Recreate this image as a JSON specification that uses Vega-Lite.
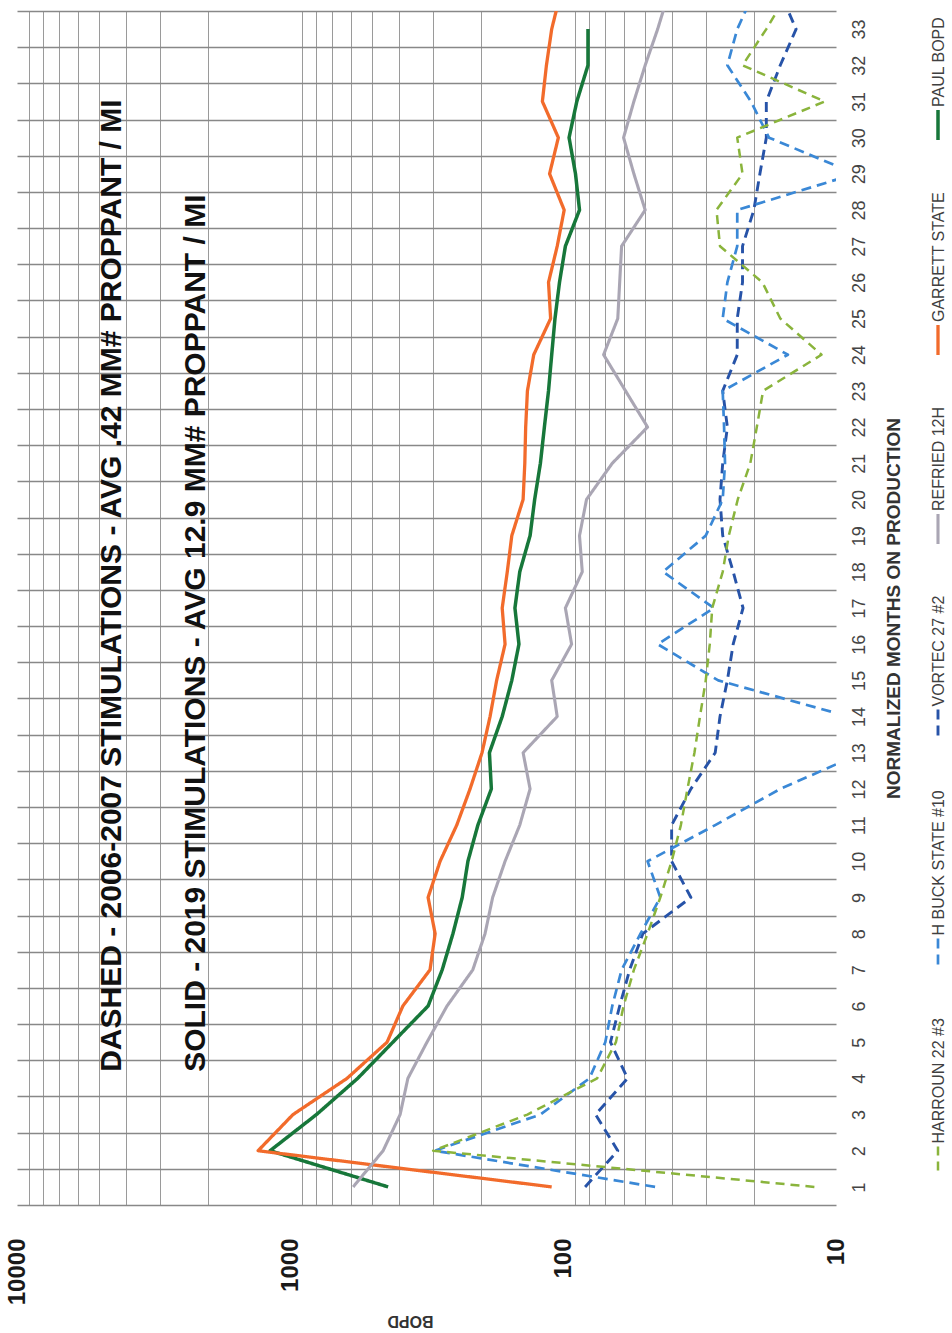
{
  "$schema": "https://vega.github.io/schema/vega-lite/v6.json",
  "width": 819,
  "height": 1194,
  "autosize": {"type": "none"},
  "padding": {"left": 17, "top": 11, "right": 116, "bottom": 128},
  "background": "white",
  "config": {"view": {"stroke": null}, "font": "Liberation Sans"},
  "datasets": {
    "prod": [
      {"series": "PAUL BOPD", "month": 1, "bopd": 437}, {"series": "PAUL BOPD", "month": 2, "bopd": 1183}, {"series": "PAUL BOPD", "month": 3, "bopd": 800}, {"series": "PAUL BOPD", "month": 4, "bopd": 565}, {"series": "PAUL BOPD", "month": 5, "bopd": 420}, {"series": "PAUL BOPD", "month": 6, "bopd": 312}, {"series": "PAUL BOPD", "month": 7, "bopd": 277}, {"series": "PAUL BOPD", "month": 8, "bopd": 253}, {"series": "PAUL BOPD", "month": 9, "bopd": 234}, {"series": "PAUL BOPD", "month": 10, "bopd": 223}, {"series": "PAUL BOPD", "month": 11, "bopd": 205}, {"series": "PAUL BOPD", "month": 12, "bopd": 183}, {"series": "PAUL BOPD", "month": 13, "bopd": 186}, {"series": "PAUL BOPD", "month": 14, "bopd": 167}, {"series": "PAUL BOPD", "month": 15, "bopd": 154}, {"series": "PAUL BOPD", "month": 16, "bopd": 145}, {"series": "PAUL BOPD", "month": 17, "bopd": 150}, {"series": "PAUL BOPD", "month": 18, "bopd": 144}, {"series": "PAUL BOPD", "month": 19, "bopd": 132}, {"series": "PAUL BOPD", "month": 20, "bopd": 127}, {"series": "PAUL BOPD", "month": 21, "bopd": 121}, {"series": "PAUL BOPD", "month": 22, "bopd": 117}, {"series": "PAUL BOPD", "month": 23, "bopd": 113}, {"series": "PAUL BOPD", "month": 24, "bopd": 110}, {"series": "PAUL BOPD", "month": 25, "bopd": 107}, {"series": "PAUL BOPD", "month": 26, "bopd": 103}, {"series": "PAUL BOPD", "month": 27, "bopd": 98}, {"series": "PAUL BOPD", "month": 28, "bopd": 87}, {"series": "PAUL BOPD", "month": 29, "bopd": 90}, {"series": "PAUL BOPD", "month": 30, "bopd": 95}, {"series": "PAUL BOPD", "month": 31, "bopd": 89}, {"series": "PAUL BOPD", "month": 32, "bopd": 81}, {"series": "PAUL BOPD", "month": 33, "bopd": 81},
      {"series": "GARRETT STATE", "month": 1, "bopd": 110}, {"series": "GARRETT STATE", "month": 2, "bopd": 1309}, {"series": "GARRETT STATE", "month": 3, "bopd": 975}, {"series": "GARRETT STATE", "month": 4, "bopd": 618}, {"series": "GARRETT STATE", "month": 5, "bopd": 441}, {"series": "GARRETT STATE", "month": 6, "bopd": 386}, {"series": "GARRETT STATE", "month": 7, "bopd": 307}, {"series": "GARRETT STATE", "month": 8, "bopd": 294}, {"series": "GARRETT STATE", "month": 9, "bopd": 312}, {"series": "GARRETT STATE", "month": 10, "bopd": 282}, {"series": "GARRETT STATE", "month": 11, "bopd": 245}, {"series": "GARRETT STATE", "month": 12, "bopd": 219}, {"series": "GARRETT STATE", "month": 13, "bopd": 198}, {"series": "GARRETT STATE", "month": 14, "bopd": 185}, {"series": "GARRETT STATE", "month": 15, "bopd": 175}, {"series": "GARRETT STATE", "month": 16, "bopd": 163}, {"series": "GARRETT STATE", "month": 17, "bopd": 167}, {"series": "GARRETT STATE", "month": 18, "bopd": 160}, {"series": "GARRETT STATE", "month": 19, "bopd": 154}, {"series": "GARRETT STATE", "month": 20, "bopd": 140}, {"series": "GARRETT STATE", "month": 21, "bopd": 138}, {"series": "GARRETT STATE", "month": 22, "bopd": 137}, {"series": "GARRETT STATE", "month": 23, "bopd": 135}, {"series": "GARRETT STATE", "month": 24, "bopd": 128}, {"series": "GARRETT STATE", "month": 25, "bopd": 111}, {"series": "GARRETT STATE", "month": 26, "bopd": 113}, {"series": "GARRETT STATE", "month": 27, "bopd": 105}, {"series": "GARRETT STATE", "month": 28, "bopd": 99}, {"series": "GARRETT STATE", "month": 29, "bopd": 112}, {"series": "GARRETT STATE", "month": 30, "bopd": 104}, {"series": "GARRETT STATE", "month": 31, "bopd": 119}, {"series": "GARRETT STATE", "month": 32, "bopd": 115}, {"series": "GARRETT STATE", "month": 33, "bopd": 110}, {"series": "GARRETT STATE", "month": 34, "bopd": 102},
      {"series": "REFRIED 12H", "month": 1, "bopd": 587}, {"series": "REFRIED 12H", "month": 2, "bopd": 456}, {"series": "REFRIED 12H", "month": 3, "bopd": 395}, {"series": "REFRIED 12H", "month": 4, "bopd": 370}, {"series": "REFRIED 12H", "month": 5, "bopd": 315}, {"series": "REFRIED 12H", "month": 6, "bopd": 266}, {"series": "REFRIED 12H", "month": 7, "bopd": 214}, {"series": "REFRIED 12H", "month": 8, "bopd": 193}, {"series": "REFRIED 12H", "month": 9, "bopd": 181}, {"series": "REFRIED 12H", "month": 10, "bopd": 163}, {"series": "REFRIED 12H", "month": 11, "bopd": 144}, {"series": "REFRIED 12H", "month": 12, "bopd": 132}, {"series": "REFRIED 12H", "month": 13, "bopd": 140}, {"series": "REFRIED 12H", "month": 14, "bopd": 105}, {"series": "REFRIED 12H", "month": 15, "bopd": 110}, {"series": "REFRIED 12H", "month": 16, "bopd": 93}, {"series": "REFRIED 12H", "month": 17, "bopd": 98}, {"series": "REFRIED 12H", "month": 18, "bopd": 85}, {"series": "REFRIED 12H", "month": 19, "bopd": 87}, {"series": "REFRIED 12H", "month": 20, "bopd": 82}, {"series": "REFRIED 12H", "month": 21, "bopd": 66}, {"series": "REFRIED 12H", "month": 22, "bopd": 49}, {"series": "REFRIED 12H", "month": 23, "bopd": 59}, {"series": "REFRIED 12H", "month": 24, "bopd": 71}, {"series": "REFRIED 12H", "month": 25, "bopd": 63}, {"series": "REFRIED 12H", "month": 26, "bopd": 62}, {"series": "REFRIED 12H", "month": 27, "bopd": 61}, {"series": "REFRIED 12H", "month": 28, "bopd": 50}, {"series": "REFRIED 12H", "month": 29, "bopd": 55}, {"series": "REFRIED 12H", "month": 30, "bopd": 60}, {"series": "REFRIED 12H", "month": 31, "bopd": 55}, {"series": "REFRIED 12H", "month": 32, "bopd": 50}, {"series": "REFRIED 12H", "month": 33, "bopd": 45}, {"series": "REFRIED 12H", "month": 34, "bopd": 41},
      {"series": "VORTEC 27 #2", "month": 1, "bopd": 83}, {"series": "VORTEC 27 #2", "month": 2, "bopd": 63}, {"series": "VORTEC 27 #2", "month": 3, "bopd": 76}, {"series": "VORTEC 27 #2", "month": 4, "bopd": 58}, {"series": "VORTEC 27 #2", "month": 5, "bopd": 67}, {"series": "VORTEC 27 #2", "month": 6, "bopd": 62}, {"series": "VORTEC 27 #2", "month": 7, "bopd": 57}, {"series": "VORTEC 27 #2", "month": 8, "bopd": 51}, {"series": "VORTEC 27 #2", "month": 9, "bopd": 34}, {"series": "VORTEC 27 #2", "month": 10, "bopd": 40}, {"series": "VORTEC 27 #2", "month": 11, "bopd": 40}, {"series": "VORTEC 27 #2", "month": 12, "bopd": 34}, {"series": "VORTEC 27 #2", "month": 13, "bopd": 27.7}, {"series": "VORTEC 27 #2", "month": 14, "bopd": 26.6}, {"series": "VORTEC 27 #2", "month": 15, "bopd": 25}, {"series": "VORTEC 27 #2", "month": 16, "bopd": 23.8}, {"series": "VORTEC 27 #2", "month": 17, "bopd": 21.9}, {"series": "VORTEC 27 #2", "month": 18, "bopd": 23.8}, {"series": "VORTEC 27 #2", "month": 19, "bopd": 26}, {"series": "VORTEC 27 #2", "month": 20, "bopd": 26.6}, {"series": "VORTEC 27 #2", "month": 21, "bopd": 26}, {"series": "VORTEC 27 #2", "month": 22, "bopd": 25}, {"series": "VORTEC 27 #2", "month": 23, "bopd": 26}, {"series": "VORTEC 27 #2", "month": 24, "bopd": 23}, {"series": "VORTEC 27 #2", "month": 25, "bopd": 23}, {"series": "VORTEC 27 #2", "month": 26, "bopd": 22}, {"series": "VORTEC 27 #2", "month": 27, "bopd": 22}, {"series": "VORTEC 27 #2", "month": 28, "bopd": 20}, {"series": "VORTEC 27 #2", "month": 29, "bopd": 19}, {"series": "VORTEC 27 #2", "month": 30, "bopd": 18}, {"series": "VORTEC 27 #2", "month": 31, "bopd": 18}, {"series": "VORTEC 27 #2", "month": 32, "bopd": 16}, {"series": "VORTEC 27 #2", "month": 33, "bopd": 14}, {"series": "VORTEC 27 #2", "month": 34, "bopd": 16},
      {"series": "H BUCK STATE #10", "month": 1, "bopd": 46}, {"series": "H BUCK STATE #10", "month": 2, "bopd": 295}, {"series": "H BUCK STATE #10", "month": 3, "bopd": 121}, {"series": "H BUCK STATE #10", "month": 4, "bopd": 80}, {"series": "H BUCK STATE #10", "month": 5, "bopd": 70}, {"series": "H BUCK STATE #10", "month": 6, "bopd": 66}, {"series": "H BUCK STATE #10", "month": 7, "bopd": 61}, {"series": "H BUCK STATE #10", "month": 8, "bopd": 52}, {"series": "H BUCK STATE #10", "month": 9, "bopd": 44}, {"series": "H BUCK STATE #10", "month": 10, "bopd": 49}, {"series": "H BUCK STATE #10", "month": 11, "bopd": 27.7}, {"series": "H BUCK STATE #10", "month": 12, "bopd": 16}, {"series": "H BUCK STATE #10", "month": 13, "bopd": 8}, {"series": "H BUCK STATE #10", "month": 14, "bopd": 9}, {"series": "H BUCK STATE #10", "month": 15, "bopd": 27}, {"series": "H BUCK STATE #10", "month": 16, "bopd": 45}, {"series": "H BUCK STATE #10", "month": 17, "bopd": 28}, {"series": "H BUCK STATE #10", "month": 18, "bopd": 43}, {"series": "H BUCK STATE #10", "month": 19, "bopd": 30}, {"series": "H BUCK STATE #10", "month": 20, "bopd": 26}, {"series": "H BUCK STATE #10", "month": 21, "bopd": 25.5}, {"series": "H BUCK STATE #10", "month": 22, "bopd": 25.7}, {"series": "H BUCK STATE #10", "month": 23, "bopd": 26}, {"series": "H BUCK STATE #10", "month": 24, "bopd": 15}, {"series": "H BUCK STATE #10", "month": 25, "bopd": 26}, {"series": "H BUCK STATE #10", "month": 26, "bopd": 25}, {"series": "H BUCK STATE #10", "month": 27, "bopd": 23}, {"series": "H BUCK STATE #10", "month": 28, "bopd": 23}, {"series": "H BUCK STATE #10", "month": 29, "bopd": 8.5}, {"series": "H BUCK STATE #10", "month": 30, "bopd": 17.6}, {"series": "H BUCK STATE #10", "month": 31, "bopd": 20.5}, {"series": "H BUCK STATE #10", "month": 32, "bopd": 25}, {"series": "H BUCK STATE #10", "month": 33, "bopd": 23}, {"series": "H BUCK STATE #10", "month": 34, "bopd": 20},
      {"series": "HARROUN 22 #3", "month": 1, "bopd": 12}, {"series": "HARROUN 22 #3", "month": 2, "bopd": 299}, {"series": "HARROUN 22 #3", "month": 3, "bopd": 135}, {"series": "HARROUN 22 #3", "month": 4, "bopd": 75}, {"series": "HARROUN 22 #3", "month": 5, "bopd": 64}, {"series": "HARROUN 22 #3", "month": 6, "bopd": 60}, {"series": "HARROUN 22 #3", "month": 7, "bopd": 55}, {"series": "HARROUN 22 #3", "month": 8, "bopd": 49}, {"series": "HARROUN 22 #3", "month": 9, "bopd": 44}, {"series": "HARROUN 22 #3", "month": 10, "bopd": 40}, {"series": "HARROUN 22 #3", "month": 11, "bopd": 37}, {"series": "HARROUN 22 #3", "month": 12, "bopd": 35}, {"series": "HARROUN 22 #3", "month": 13, "bopd": 33}, {"series": "HARROUN 22 #3", "month": 14, "bopd": 31.5}, {"series": "HARROUN 22 #3", "month": 15, "bopd": 30}, {"series": "HARROUN 22 #3", "month": 16, "bopd": 29}, {"series": "HARROUN 22 #3", "month": 17, "bopd": 28.4}, {"series": "HARROUN 22 #3", "month": 18, "bopd": 26}, {"series": "HARROUN 22 #3", "month": 19, "bopd": 24.7}, {"series": "HARROUN 22 #3", "month": 20, "bopd": 22.9}, {"series": "HARROUN 22 #3", "month": 21, "bopd": 20.6}, {"series": "HARROUN 22 #3", "month": 22, "bopd": 19.5}, {"series": "HARROUN 22 #3", "month": 23, "bopd": 18.5}, {"series": "HARROUN 22 #3", "month": 24, "bopd": 11.3}, {"series": "HARROUN 22 #3", "month": 25, "bopd": 16}, {"series": "HARROUN 22 #3", "month": 26, "bopd": 18.6}, {"series": "HARROUN 22 #3", "month": 27, "bopd": 26.6}, {"series": "HARROUN 22 #3", "month": 28, "bopd": 27.4}, {"series": "HARROUN 22 #3", "month": 29, "bopd": 22}, {"series": "HARROUN 22 #3", "month": 30, "bopd": 23}, {"series": "HARROUN 22 #3", "month": 31, "bopd": 11}, {"series": "HARROUN 22 #3", "month": 32, "bopd": 22}, {"series": "HARROUN 22 #3", "month": 33, "bopd": 18}, {"series": "HARROUN 22 #3", "month": 34, "bopd": 15}
    ],
    "notes": [{"note": "annotation"}]
  },
  "layer": [
    {
      "data": {"name": "prod"},
      "mark": {"type": "line", "clip": true, "strokeCap": "butt", "strokeJoin": "round"},
      "encoding": {
        "x": {
          "field": "bopd", "type": "quantitative",
          "scale": {"type": "log", "domain": [10, 10000], "reverse": true},
          "axis": {
            "orient": "bottom", "tickCount": 200,
            "values": [10, 20, 30, 40, 50, 60, 70, 80, 90, 100, 200, 300, 400, 500, 600, 700, 800, 900, 1000, 2000, 3000, 4000, 5000, 6000, 7000, 8000, 9000, 10000],
            "grid": true, "gridColor": "#9a9a9a", "gridWidth": 1,
            "gridOpacity": {"condition": {"test": "datum.value == 10 || datum.value == 100 || datum.value == 1000 || datum.value == 10000", "value": 0}, "value": 1},
            "ticks": false, "domain": false,
            "labelExpr": "datum.value == 10 || datum.value == 100 || datum.value == 1000 || datum.value == 10000 ? format(datum.value, 'd') : ''",
            "labelAngle": 270, "labelAlign": "right", "labelBaseline": "middle",
            "labelFontSize": 24, "labelFontWeight": "bold", "labelColor": "#1a1a1a",
            "labelPadding": 33, "labelOverlap": false, "labelFlush": false, "labelBound": false,
            "title": "BOPD", "titleAngle": 180, "titleFontSize": 16, "titleFontWeight": "bold", "titleColor": "#333333",
            "titleX": 393, "titleY": 115, "titleAlign": "center", "titleBaseline": "middle"
          }
        },
        "y": {
          "field": "month", "type": "quantitative",
          "scale": {"domain": [0.5, 33.5], "nice": false, "zero": false},
          "axis": {
            "orient": "right", "tickCount": 200,
            "values": [0.5, 1, 1.5, 2, 2.5, 3, 3.5, 4, 4.5, 5, 5.5, 6, 6.5, 7, 7.5, 8, 8.5, 9, 9.5, 10, 10.5, 11, 11.5, 12, 12.5, 13, 13.5, 14, 14.5, 15, 15.5, 16, 16.5, 17, 17.5, 18, 18.5, 19, 19.5, 20, 20.5, 21, 21.5, 22, 22.5, 23, 23.5, 24, 24.5, 25, 25.5, 26, 26.5, 27, 27.5, 28, 28.5, 29, 29.5, 30, 30.5, 31, 31.5, 32, 32.5, 33, 33.5],
            "grid": true, "gridColor": "#888888", "gridWidth": 1.5,
            "gridOpacity": {"condition": {"test": "datum.value % 1 == 0", "value": 0}, "value": 1},
            "ticks": false, "domain": false,
            "labelExpr": "datum.value % 1 == 0 ? format(datum.value, 'd') : ''",
            "labelAngle": 270, "labelAlign": "center", "labelBaseline": "top",
            "labelFontSize": 18, "labelColor": "#444444", "labelPadding": 14,
            "labelOverlap": false, "labelFlush": false, "labelBound": false,
            "title": "NORMALIZED MONTHS ON PRODUCTION", "titleAngle": 270, "titleFontSize": 19, "titleFontWeight": "bold", "titleColor": "#333333",
            "titleX": 57, "titleY": 597, "titleAlign": "center", "titleBaseline": "middle"
          }
        },
        "order": {"field": "month", "type": "quantitative"},
        "color": {
          "field": "series", "type": "nominal",
          "scale": {"domain": ["PAUL BOPD", "GARRETT STATE", "REFRIED 12H", "VORTEC 27 #2", "H BUCK STATE #10", "HARROUN 22 #3"], "range": ["#17773a", "#f26b2b", "#aaa6b4", "#2753a8", "#3a88d6", "#8ab43c"]},
          "legend": {
            "title": null, "orient": "none", "legendX": 904, "legendY": 97, "direction": "vertical",
            "symbolType": "M0,-1L0,1", "symbolSize": 900, "labelFontSize": 16, "labelColor": "#404040",
            "labelOffset": -16, "labelAlign": "left", "labelBaseline": "middle", "rowPadding": 44, "labelLimit": 400, "padding": 0,
            "encode": {"labels": {"update": {"angle": {"value": 270}, "dx": {"value": 18}}}}
          }
        },
        "strokeDash": {
          "field": "series", "type": "nominal",
          "scale": {"domain": ["PAUL BOPD", "GARRETT STATE", "REFRIED 12H", "VORTEC 27 #2", "H BUCK STATE #10", "HARROUN 22 #3"], "range": [[1, 0], [1, 0], [1, 0], [10, 6], [10, 6], [9, 6]]},
          "legend": {
            "title": null, "orient": "none", "legendX": 904, "legendY": 97, "direction": "vertical",
            "symbolType": "M0,-1L0,1", "symbolSize": 900, "labelFontSize": 16, "labelColor": "#404040",
            "labelOffset": -16, "labelAlign": "left", "labelBaseline": "middle", "rowPadding": 44, "labelLimit": 400, "padding": 0,
            "encode": {"labels": {"update": {"angle": {"value": 270}, "dx": {"value": 18}}}}
          }
        },
        "strokeWidth": {
          "field": "series", "type": "nominal",
          "scale": {"domain": ["PAUL BOPD", "GARRETT STATE", "REFRIED 12H", "VORTEC 27 #2", "H BUCK STATE #10", "HARROUN 22 #3"], "range": [3.5, 2.5, 1.5, 3.5, 3, 2.5]},
          "legend": {
            "title": null, "orient": "none", "legendX": 904, "legendY": 97, "direction": "vertical",
            "symbolType": "M0,-1L0,1", "symbolSize": 900, "labelFontSize": 16, "labelColor": "#404040",
            "labelOffset": -16, "labelAlign": "left", "labelBaseline": "middle", "rowPadding": 44, "labelLimit": 400, "padding": 0,
            "encode": {"labels": {"update": {"angle": {"value": 270}, "dx": {"value": 18}}}}
          }
        }
      }
    },
    {
      "data": {"name": "notes"},
      "mark": {"type": "text", "angle": 270, "align": "left", "baseline": "middle", "fontSize": 30, "fontWeight": "bold", "color": "#111111"},
      "encoding": {
        "x": {"datum": 4490, "type": "quantitative"},
        "y": {"datum": 4.18, "type": "quantitative"},
        "text": {"value": "DASHED - 2006-2007 STIMULATIONS - AVG .42 MM# PROPPANT / MI"}
      }
    },
    {
      "data": {"name": "notes"},
      "mark": {"type": "text", "angle": 270, "align": "left", "baseline": "middle", "fontSize": 30, "fontWeight": "bold", "color": "#111111"},
      "encoding": {
        "x": {"datum": 2209, "type": "quantitative"},
        "y": {"datum": 4.18, "type": "quantitative"},
        "text": {"value": "SOLID - 2019  STIMULATIONS - AVG 12.9 MM# PROPPANT / MI"}
      }
    }
  ]
}
